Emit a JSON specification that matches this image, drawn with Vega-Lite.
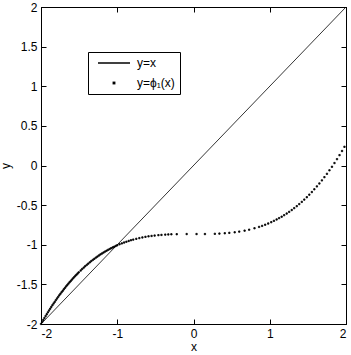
{
  "$schema": "https://vega.github.io/schema/vega-lite/v6.json",
  "width": 305,
  "height": 317,
  "autosize": {"type": "none"},
  "padding": {"left": 41, "top": 7, "right": 5, "bottom": 31},
  "background": "white",
  "config": {
    "view": {"stroke": "black", "strokeWidth": 1},
    "font": "Liberation Sans",
    "axis": {
      "grid": false,
      "domainColor": "black",
      "tickColor": "black",
      "tickSize": -5,
      "labelColor": "black",
      "labelFont": "Liberation Sans",
      "labelFontSize": 12,
      "labelExpr": "'' + datum.value",
      "titleFont": "Liberation Sans",
      "titleFontSize": 12,
      "titleFontWeight": "normal",
      "titleColor": "black"
    },
    "legend": {
      "strokeColor": "black",
      "fillColor": "white",
      "padding": 5,
      "labelFont": "Liberation Sans",
      "labelFontSize": 12,
      "labelColor": "black",
      "labelOffset": 17,
      "symbolOffset": 15,
      "symbolSize": 64,
      "rowPadding": 8
    }
  },
  "datasets": {
    "line": [{"x": -2, "y": -2}, {"x": 2, "y": 2}],
    "phi": [
      {"x": -2.0, "y": -1.999}, {"x": -1.985, "y": -1.974}, {"x": -1.97, "y": -1.949}, {"x": -1.955, "y": -1.925},
      {"x": -1.94, "y": -1.9}, {"x": -1.925, "y": -1.877}, {"x": -1.91, "y": -1.853}, {"x": -1.895, "y": -1.83},
      {"x": -1.88, "y": -1.807}, {"x": -1.865, "y": -1.785}, {"x": -1.85, "y": -1.763}, {"x": -1.835, "y": -1.741},
      {"x": -1.82, "y": -1.72}, {"x": -1.805, "y": -1.699}, {"x": -1.79, "y": -1.678}, {"x": -1.775, "y": -1.658},
      {"x": -1.76, "y": -1.638}, {"x": -1.745, "y": -1.618}, {"x": -1.73, "y": -1.599}, {"x": -1.715, "y": -1.58},
      {"x": -1.7, "y": -1.562}, {"x": -1.685, "y": -1.543}, {"x": -1.67, "y": -1.525}, {"x": -1.655, "y": -1.508},
      {"x": -1.64, "y": -1.49}, {"x": -1.625, "y": -1.473}, {"x": -1.61, "y": -1.457}, {"x": -1.595, "y": -1.44},
      {"x": -1.58, "y": -1.424}, {"x": -1.565, "y": -1.409}, {"x": -1.55, "y": -1.393}, {"x": -1.535, "y": -1.378},
      {"x": -1.52, "y": -1.363}, {"x": -1.505, "y": -1.348},
      {"x": -1.48, "y": -1.325}, {"x": -1.46, "y": -1.306}, {"x": -1.44, "y": -1.288}, {"x": -1.42, "y": -1.271},
      {"x": -1.4, "y": -1.254}, {"x": -1.38, "y": -1.238}, {"x": -1.36, "y": -1.222}, {"x": -1.34, "y": -1.206},
      {"x": -1.32, "y": -1.191}, {"x": -1.3, "y": -1.177}, {"x": -1.28, "y": -1.162}, {"x": -1.26, "y": -1.149},
      {"x": -1.24, "y": -1.135}, {"x": -1.22, "y": -1.122}, {"x": -1.2, "y": -1.11}, {"x": -1.18, "y": -1.098},
      {"x": -1.16, "y": -1.086}, {"x": -1.14, "y": -1.075}, {"x": -1.12, "y": -1.064}, {"x": -1.1, "y": -1.054},
      {"x": -1.08, "y": -1.044}, {"x": -1.06, "y": -1.034}, {"x": -1.04, "y": -1.025}, {"x": -1.02, "y": -1.015},
      {"x": -1.0, "y": -1.007}, {"x": -0.97, "y": -0.994}, {"x": -0.94, "y": -0.983}, {"x": -0.91, "y": -0.972},
      {"x": -0.88, "y": -0.962}, {"x": -0.85, "y": -0.952}, {"x": -0.82, "y": -0.943}, {"x": -0.79, "y": -0.935},
      {"x": -0.75, "y": -0.925}, {"x": -0.71, "y": -0.916}, {"x": -0.67, "y": -0.908}, {"x": -0.63, "y": -0.9},
      {"x": -0.59, "y": -0.894}, {"x": -0.55, "y": -0.889}, {"x": -0.51, "y": -0.884}, {"x": -0.46, "y": -0.879},
      {"x": -0.42, "y": -0.876}, {"x": -0.37, "y": -0.872}, {"x": -0.33, "y": -0.87}, {"x": -0.29, "y": -0.868},
      {"x": -0.22, "y": -0.867}, {"x": -0.09, "y": -0.865}, {"x": 0.04, "y": -0.865}, {"x": 0.15, "y": -0.865},
      {"x": 0.28, "y": -0.862}, {"x": 0.34, "y": -0.859}, {"x": 0.41, "y": -0.855}, {"x": 0.47, "y": -0.85},
      {"x": 0.54, "y": -0.843}, {"x": 0.6, "y": -0.834}, {"x": 0.67, "y": -0.822}, {"x": 0.73, "y": -0.81},
      {"x": 0.8, "y": -0.792}, {"x": 0.86, "y": -0.775}, {"x": 0.9, "y": -0.762}, {"x": 0.94, "y": -0.747},
      {"x": 0.98, "y": -0.732}, {"x": 1.02, "y": -0.715}, {"x": 1.055, "y": -0.698}, {"x": 1.09, "y": -0.681},
      {"x": 1.123, "y": -0.664}, {"x": 1.156, "y": -0.646}, {"x": 1.189, "y": -0.627}, {"x": 1.222, "y": -0.606},
      {"x": 1.255, "y": -0.585}, {"x": 1.288, "y": -0.562}, {"x": 1.321, "y": -0.538}, {"x": 1.354, "y": -0.513},
      {"x": 1.387, "y": -0.487}, {"x": 1.42, "y": -0.459}, {"x": 1.453, "y": -0.43}, {"x": 1.486, "y": -0.4},
      {"x": 1.519, "y": -0.368}, {"x": 1.552, "y": -0.335}, {"x": 1.585, "y": -0.3}, {"x": 1.618, "y": -0.264},
      {"x": 1.651, "y": -0.227}, {"x": 1.684, "y": -0.188}, {"x": 1.717, "y": -0.147}, {"x": 1.75, "y": -0.105},
      {"x": 1.783, "y": -0.061}, {"x": 1.816, "y": -0.016}, {"x": 1.849, "y": 0.031}, {"x": 1.882, "y": 0.08},
      {"x": 1.915, "y": 0.131}, {"x": 1.948, "y": 0.183}, {"x": 1.98, "y": 0.236}
    ]
  },
  "layer": [
    {
      "data": {"name": "line"},
      "mark": {"type": "line", "color": "black", "strokeWidth": 0.8, "clip": true},
      "encoding": {
        "x": {
          "field": "x", "type": "quantitative",
          "scale": {"domain": [-2, 2], "nice": false, "zero": false},
          "axis": {"orient": "bottom", "values": [-2, -1, 0, 1, 2], "title": "x", "labelPadding": 9, "titlePadding": 2}
        },
        "y": {
          "field": "y", "type": "quantitative",
          "scale": {"domain": [-2, 2], "nice": false, "zero": false},
          "axis": {"orient": "left", "values": [-2, -1.5, -1, -0.5, 0, 0.5, 1, 1.5, 2], "title": "y", "labelPadding": 9, "titlePadding": 4}
        }
      }
    },
    {
      "data": {"name": "phi"},
      "transform": [{"calculate": "'y=ϕ₁(x)'", "as": "series"}],
      "mark": {"type": "point", "filled": true, "color": "black", "stroke": "black", "strokeWidth": 0.8, "size": 64, "opacity": 1},
      "encoding": {
        "x": {"field": "x", "type": "quantitative", "axis": {"orient": "top", "values": [-2, -1, 0, 1, 2], "labels": false, "title": null}},
        "y": {"field": "y", "type": "quantitative", "axis": {"orient": "right", "values": [-2, -1.5, -1, -0.5, 0, 0.5, 1, 1.5, 2], "labels": false, "title": null}},
        "shape": {
          "field": "series", "type": "nominal",
          "scale": {"domain": ["y=x", "y=ϕ₁(x)"], "range": ["M-4,0H4", "M-0.17,-0.17H0.17V0.17H-0.17Z"]},
          "legend": {"title": null, "orient": "none", "legendX": 47, "legendY": 45}
        }
      }
    }
  ],
  "resolve": {"axis": {"x": "independent", "y": "independent"}}
}
